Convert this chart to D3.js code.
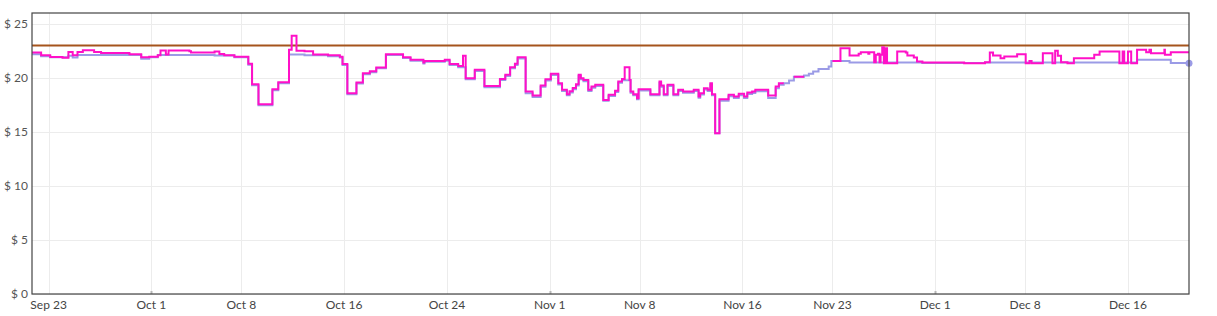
<!DOCTYPE html>
<html>
<head>
<meta charset="utf-8">
<script src="https://cdn.jsdelivr.net/npm/d3@7"></script>
<style>
  html, body { margin: 0; padding: 0; background: #fff; }
  svg { display: block; font-family: Lato, "Noto Sans", sans-serif; }
</style>
</head>
<body>
<svg id="chart" width="1217" height="316"></svg>
<script>
// ---------------- DATA ----------------
const xTickLabels = ["09-23","10-01","10-08","10-16","10-24","11-01","11-08","11-16","11-23","12-01","12-08","12-16"];
const monthTicks = ["10-01","11-01","12-01"];
const yTicks = [0, 5, 10, 15, 20, 25];

const targetTimes = ["09-21 17", "12-20 18"];
const targetValues = [23, 23];

const magentaTimes = ["09-21 17","09-22 10","09-23 03","09-24 02","09-24 13","09-24 21","09-25 06","09-25 16","09-26 13","09-27 02","09-29 07","09-30 05","09-30 20","10-01 12","10-01 17","10-02 03","10-02 08","10-03 23","10-04 02","10-05 22","10-06 07","10-06 16","10-07 11","10-08 13","10-08 20","10-09 08","10-10 10","10-10 21","10-11 17","10-11 22","10-12 07","10-12 22","10-13 14","10-14 18","10-15 16","10-15 21","10-16 06","10-16 23","10-17 11","10-18 00","10-18 12","10-19 06","10-20 14","10-21 04","10-22 04","10-22 06","10-23 20","10-24 05","10-24 21","10-25 06","10-25 11","10-26 04","10-26 22","10-28 03","10-28 13","10-28 22","10-29 07","10-29 12","10-30 03","10-30 16","10-31 07","10-31 16","11-01 02","11-01 16","11-01 23","11-02 08","11-02 13","11-02 19","11-03 01","11-03 06","11-03 10","11-03 15","11-04 00","11-04 06","11-04 13","11-05 04","11-05 14","11-06 02","11-06 08","11-06 15","11-06 20","11-07 05","11-07 07","11-07 12","11-07 19","11-07 22","11-08 20","11-09 13","11-09 16","11-09 21","11-10 04","11-10 15","11-11 00","11-11 09","11-12 05","11-12 14","11-12 17","11-13 00","11-13 07","11-13 12","11-13 15","11-13 21","11-14 05","11-14 22","11-15 08","11-15 17","11-16 03","11-16 09","11-16 18","11-17 00","11-18 00","11-18 14","11-18 20","11-19 05","11-19 06","11-20 00","11-20 19","11-20 20","11-23 00","11-23 15","11-24 08","11-25 01","11-25 05","11-25 19","11-25 21","11-26 06","11-26 09","11-26 13","11-26 16","11-26 18","11-26 21","11-27 00","11-27 03","11-27 06","11-28 01","11-28 17","11-28 20","11-29 08","11-29 14","11-30 00","12-03 06","12-04 21","12-05 06","12-05 12","12-06 02","12-06 09","12-07 09","12-08 01","12-08 08","12-08 12","12-09 09","12-10 03","12-10 08","12-10 13","12-10 19","12-11 07","12-11 19","12-13 09","12-13 19","12-15 08","12-15 14","12-15 17","12-16 00","12-16 06","12-16 17","12-17 10","12-17 16","12-17 19","12-18 20","12-18 21","12-19 08","12-20 18"];
const magentaValues = [22.34,22.10,21.94,21.85,22.40,22.10,22.40,22.56,22.40,22.31,22.19,21.91,21.96,22.10,22.53,22.15,22.52,22.45,22.34,22.43,22.20,22.10,21.96,21.30,19.40,17.56,18.95,19.60,22.60,23.90,22.50,22.45,22.16,22.10,21.96,21.27,18.58,19.57,20.43,20.60,20.96,22.19,21.91,21.67,21.42,21.57,21.67,21.27,21.10,22.04,19.97,20.74,19.25,19.90,20.28,20.99,21.30,21.91,18.73,18.36,19.30,19.88,20.37,19.50,18.89,18.49,18.75,19.05,19.40,20.28,19.97,19.80,18.89,19.20,19.35,17.96,18.43,18.80,19.66,19.90,20.99,19.80,18.73,18.49,18.12,18.95,18.49,19.66,19.29,18.49,19.35,18.49,18.89,18.73,18.89,18.27,18.58,19.04,18.89,19.50,18.49,14.88,18.02,18.43,18.27,18.52,18.27,18.64,18.73,18.89,18.36,19.20,19.50,19.50,null,20.09,20.09,null,21.57,22.75,22.07,22.22,22.37,22.22,22.37,21.45,22.13,22.22,21.45,22.13,22.84,21.36,22.75,21.36,22.44,22.35,22.07,21.88,21.51,21.42,21.36,21.45,22.35,22.07,21.82,21.98,22.19,21.36,21.57,21.36,22.28,21.36,22.50,22.04,21.45,21.36,21.82,22.13,22.44,21.36,22.44,21.36,22.44,21.36,22.59,22.37,22.59,22.28,22.59,22.13,22.37,22.37];

const blueTimes = ["09-21 17","09-22 10","09-23 03","09-24 13","09-24 21","09-25 06","09-30 05","09-30 20","10-01 12","10-05 22","10-07 11","10-08 13","10-08 20","10-09 08","10-10 10","10-10 21","10-11 17","10-12 22","10-14 18","10-15 16","10-15 21","10-16 06","10-16 23","10-17 11","10-18 00","10-18 12","10-19 06","10-20 14","10-21 04","10-22 04","10-22 06","10-23 20","10-24 05","10-24 21","10-25 11","10-26 04","10-26 22","10-28 03","10-28 13","10-28 22","10-29 07","10-29 12","10-30 03","10-30 16","10-31 07","10-31 16","11-01 02","11-01 16","11-01 23","11-02 08","11-02 13","11-02 19","11-03 01","11-03 06","11-03 10","11-03 15","11-04 00","11-04 06","11-04 13","11-05 04","11-05 14","11-06 02","11-06 08","11-06 15","11-07 07","11-07 12","11-07 19","11-07 22","11-08 20","11-09 13","11-09 16","11-09 21","11-10 04","11-10 15","11-11 00","11-11 09","11-12 05","11-12 14","11-12 17","11-13 00","11-13 07","11-13 12","11-13 15","11-13 21","11-14 05","11-14 22","11-15 08","11-15 17","11-16 03","11-16 09","11-16 18","11-17 00","11-18 00","11-18 14","11-18 20","11-19 05","11-19 15","11-20 00","11-20 19","11-21 04","11-21 12","11-21 22","11-22 17","11-22 22","11-24 08","11-30 00","12-04 21","12-16 17","12-19 08","12-20 18"];
const blueValues = [22.19,22.00,21.90,22.05,21.88,22.12,21.76,21.90,22.12,22.06,21.90,21.22,19.32,17.46,18.86,19.50,22.16,22.10,22.00,21.88,21.18,18.48,19.48,20.34,20.52,20.88,22.12,21.83,21.58,21.33,21.48,21.58,21.18,20.98,19.86,20.64,19.12,19.80,20.18,20.88,21.20,21.80,18.58,18.22,19.18,19.76,20.26,19.38,18.78,18.38,18.64,18.94,19.30,20.16,19.86,19.68,18.78,19.08,19.24,17.88,18.32,18.68,19.54,19.78,18.62,18.38,18.02,18.84,18.38,19.54,19.18,18.38,19.24,18.38,18.78,18.62,18.78,18.16,18.46,18.92,18.78,19.38,18.38,14.88,17.88,18.30,18.14,18.40,18.14,18.50,18.60,18.76,18.14,19.04,19.36,19.50,19.75,20.09,20.22,20.37,20.59,20.83,21.05,21.57,21.42,21.38,21.42,21.67,21.38,21.36];

// ---------------- CHART ----------------
const W = 1217, H = 316;
const margin = { top: 13, right: 28, bottom: 22, left: 32 };
const iw = W - margin.left - margin.right;
const ih = H - margin.top - margin.bottom;

const parseT = d3.timeParse("%m-%d %H");
const parseD = d3.timeParse("%m-%d");
const zip = (ts, vs) => ts.map((t, i) => ({ t: parseT(t), v: vs[i] }));

const target = zip(targetTimes, targetValues);
const magenta = zip(magentaTimes, magentaValues);
const blue = zip(blueTimes, blueValues);

const x = d3.scaleTime()
  .domain([parseT(magentaTimes[0]), parseT(magentaTimes[magentaTimes.length - 1])])
  .range([0, iw]);
const y = d3.scaleLinear().domain([0, 26]).range([ih, 0]);

const svg = d3.select("#chart");
const g = svg.append("g").attr("transform", `translate(${margin.left},${margin.top})`);

svg.append("defs").append("clipPath").attr("id", "clip")
  .append("rect").attr("x", 0).attr("y", 0).attr("width", iw).attr("height", ih);

const xTicks = xTickLabels.map(parseD);

// gridlines
g.append("g").selectAll("line").data(yTicks).join("line")
  .attr("x1", 0).attr("x2", iw)
  .attr("y1", d => Math.round(y(d)) + 0.5).attr("y2", d => Math.round(y(d)) + 0.5)
  .attr("stroke", "#ececec").attr("stroke-width", 1);
g.append("g").selectAll("line").data(xTicks).join("line")
  .attr("x1", d => Math.round(x(d)) + 0.5).attr("x2", d => Math.round(x(d)) + 0.5)
  .attr("y1", 0).attr("y2", ih)
  .attr("stroke", "#ececec").attr("stroke-width", 1);

// month markers
g.append("g").selectAll("rect").data(monthTicks.map(parseD)).join("rect")
  .attr("x", d => Math.round(x(d)) - 0.5).attr("y", ih - 3)
  .attr("width", 2).attr("height", 3).attr("fill", "#b8b8b8");

const line = d3.line()
  .defined(d => d.v != null)
  .x(d => x(d.t)).y(d => y(d.v))
  .curve(d3.curveStepAfter);

const plot = g.append("g").attr("clip-path", "url(#clip)");
plot.append("path").datum(target).attr("d", line)
  .attr("fill", "none").attr("stroke", "#a5541c").attr("stroke-width", 2);
plot.append("path").datum(blue).attr("d", line)
  .attr("fill", "none").attr("stroke", "#9b9be6").attr("stroke-width", 2);
plot.append("path").datum(magenta).attr("d", line)
  .attr("fill", "none").attr("stroke", "#ff10c8").attr("stroke-width", 2);

// end dot
const lastBlue = blue[blue.length - 1];
g.append("circle").attr("cx", x(lastBlue.t)).attr("cy", y(lastBlue.v))
  .attr("r", 3.5).attr("fill", "#9b9be6");

// frame
g.append("rect").attr("x", 0).attr("y", 0).attr("width", iw).attr("height", ih)
  .attr("fill", "none").attr("stroke", "#444").attr("stroke-width", 1.2);

// y labels
g.append("g").selectAll("text").data(yTicks).join("text")
  .attr("x", -4).attr("y", d => y(d)).attr("dy", "0.35em")
  .attr("text-anchor", "end").attr("font-size", 12).attr("fill", "#555")
  .text(d => "$ " + d);

// x labels
const fmt = d3.timeFormat("%b %-d");
g.append("g").selectAll("text").data(xTicks).join("text")
  .attr("x", d => x(d)).attr("y", ih + 15)
  .attr("text-anchor", "middle").attr("font-size", 12).attr("fill", "#444")
  .text(d => fmt(d));
</script>
</body>
</html>
